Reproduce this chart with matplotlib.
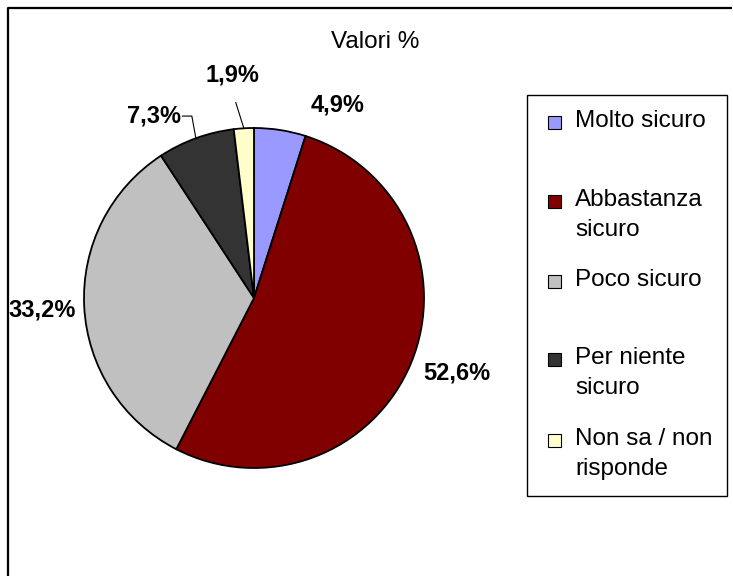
import numpy as np
import matplotlib
matplotlib.use("Agg")
import matplotlib.pyplot as plt
from matplotlib.patches import Rectangle
from matplotlib.lines import Line2D

plt.rcParams['font.family'] = ['Liberation Sans', 'DejaVu Sans']

categories = ["Molto sicuro", "Abbastanza\nsicuro", "Poco sicuro",
              "Per niente\nsicuro", "Non sa / non\nrisponde"]
values = [4.9, 52.6, 33.2, 7.3, 1.9]
pct_labels = ["4,9%", "52,6%", "33,2%", "7,3%", "1,9%"]
colors = ["#9999FF", "#800000", "#C0C0C0", "#333333", "#FFFFCC"]

# label placement: (distance in radii, angle shift in degrees)
label_dist = [1.24, 1.27, 1.25, 1.22, 1.32]
label_shift = [-14.6, 2.0, 0.3, 8.7, 2.0]


def main():
    W, H = 733, 576
    fig = plt.figure(figsize=(W / 100, H / 100), dpi=100)
    fig.patch.set_linewidth(0)
    ax = fig.add_axes([0, 0, 1, 1])
    ax.patch.set_visible(False)

    # outer frame (only top and left edges visible)
    fig.add_artist(Line2D([8 / W, 8 / W, 0.999], [-0.02, 1 - 8 / H, 1 - 8 / H],
                          transform=fig.transFigure, color='black', lw=1.6,
                          solid_capstyle='butt'))

    cx, cy, R = 254, H - 298, 170
    wedges, _ = ax.pie(values, colors=colors, startangle=90,
                       counterclock=False, center=(cx, cy), radius=R,
                       wedgeprops=dict(edgecolor='black', linewidth=1.3))
    ax.set_xlim(0, W)
    ax.set_ylim(0, H)
    ax.set_aspect('auto')
    ax.axis('off')

    for i, w in enumerate(wedges):
        mid = (w.theta1 + w.theta2) / 2
        ang = np.deg2rad(mid + label_shift[i])
        lx = cx + label_dist[i] * R * np.cos(ang)
        ly = cy + label_dist[i] * R * np.sin(ang)
        ax.text(lx, ly, pct_labels[i], ha='center', va='center',
                fontsize=17, fontweight='bold')
        a = np.deg2rad(mid)
        sx, sy = cx + R * np.cos(a), cy + R * np.sin(a)
        if pct_labels[i] == "7,3%":
            ax.plot([sx, sx - 4, lx + 28], [sy, ly, ly], color='black', lw=0.8)
        elif pct_labels[i] == "1,9%":
            ax.plot([sx, lx + 3], [sy, ly - 28], color='black', lw=0.8)

    ax.text(375, H - 42, "Valori %", ha='center', va='center', fontsize=17.5)

    # legend box
    ax.add_patch(Rectangle((527, H - 496), 200, 401, fill=False,
                           edgecolor='black', lw=1.0))
    marker_y = [122, 201, 281, 359, 440]
    for lab, col, my in zip(categories, colors, marker_y):
        ax.add_patch(Rectangle((548, H - my - 6.5), 13, 13, facecolor=col,
                               edgecolor='black', lw=0.8))
        ax.text(575, H - my + 12, lab, ha='left', va='top', fontsize=17.5,
                linespacing=1.45)

    fig.savefig("out.png", dpi=100)


if __name__ == "__main__":
    main()
